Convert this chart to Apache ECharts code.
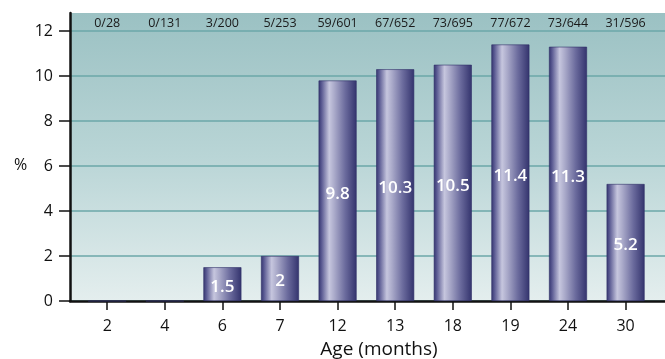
<!DOCTYPE html>
<html>
<head>
<meta charset="utf-8">
<script src="https://cdn.jsdelivr.net/npm/echarts@6/dist/echarts.min.js"></script>
<style>
  html, body { margin: 0; padding: 0; background: #ffffff; }
  #chart { width: 665px; height: 359px; }
</style>
</head>
<body>
<div id="chart"></div>
<script>
// Age groups (months) along the x axis
const ages = ['2', '4', '6', '7', '12', '13', '18', '19', '24', '30'];
// Percentage positive per age group
const percents = [0, 0, 1.5, 2, 9.8, 10.3, 10.5, 11.4, 11.3, 5.2];
// Positive / tested counts shown along the top
const counts = ['0/28', '0/131', '3/200', '5/253', '59/601', '67/652', '73/695', '77/672', '73/644', '31/596'];
// Y axis tick values
const yTicks = [0, 2, 4, 6, 8, 10, 12];

const FONT = '"Open Sans", "DejaVu Sans", sans-serif';
const Y_MAX = 12.8;

const chart = echarts.init(document.getElementById('chart'), null, { renderer: 'canvas' });

const barGradient = new echarts.graphic.LinearGradient(0, 0, 1, 0, [
  { offset: 0.0, color: '#34346f' },
  { offset: 0.08, color: '#5a5a92' },
  { offset: 0.28, color: '#c6c6de' },
  { offset: 0.42, color: '#a9a9c9' },
  { offset: 0.7, color: '#6b6b9d' },
  { offset: 1.0, color: '#33336d' }
]);

const bgGradient = new echarts.graphic.LinearGradient(0, 0, 0, 1, [
  { offset: 0, color: '#9bc1c3' },
  { offset: 0.5, color: '#b9d5d6' },
  { offset: 1, color: '#e4eeee' }
]);

chart.setOption({
  animation: false,
  grid: [
    // frame: background, gridlines, y axis
    { left: 70, right: 0, top: 13, bottom: 58, show: true, backgroundColor: bgGradient, borderWidth: 0 },
    // bars
    { left: 78.4, right: 10.6, top: 13, bottom: 58 }
  ],
  xAxis: [
    {
      gridIndex: 0, type: 'value', min: 0, max: 1,
      axisLine: { show: true, onZero: false, lineStyle: { color: '#111', width: 2.5 } },
      axisTick: { show: false }, axisLabel: { show: false }, splitLine: { show: false }
    },
    {
      gridIndex: 1, type: 'category', data: ages, position: 'bottom',
      axisLine: { show: false },
      axisTick: { show: true, alignWithLabel: true, length: 9, lineStyle: { color: '#111', width: 1.5 } },
      axisLabel: { color: '#111', fontFamily: FONT, fontSize: 16, margin: 17 }
    },
    {
      gridIndex: 1, type: 'category', data: counts, position: 'top',
      axisLine: { show: false }, axisTick: { show: false },
      axisLabel: { inside: true, color: '#1a1a1a', fontFamily: FONT, fontSize: 12.5, margin: 4 }
    }
  ],
  yAxis: [
    {
      gridIndex: 0, type: 'value', min: 0, max: Y_MAX,
      axisLine: { show: true, lineStyle: { color: '#111', width: 2.5 } },
      axisTick: { show: true, length: 11, customValues: yTicks, lineStyle: { color: '#111', width: 1.5 } },
      axisLabel: { customValues: yTicks, color: '#111', fontFamily: FONT, fontSize: 16, margin: 17 },
      splitLine: { show: true, lineStyle: { color: '#6ba7a9', width: 1.5 } }
    },
    {
      gridIndex: 1, type: 'value', min: 0, max: Y_MAX, show: false,
      splitLine: { show: false }
    }
  ],
  series: [
    {
      type: 'bar',
      xAxisIndex: 1, yAxisIndex: 1,
      data: percents,
      barWidth: 38,
      itemStyle: { color: barGradient, borderColor: '#2f2f66', borderWidth: 0.6 },
      label: {
        show: true,
        position: 'inside',
        offset: [0, 3],
        color: '#ffffff',
        fontFamily: FONT,
        fontSize: 17,
        fontWeight: 600,
        formatter: p => (p.value > 0 ? String(p.value) : '')
      }
    }
  ],
  graphic: [
    { type: 'text', left: 14, top: 157, style: { text: '%', font: '16px ' + FONT, fill: '#111' } },
    {
      type: 'text', x: 379, y: 350,
      style: { text: 'Age (months)', font: '19px ' + FONT, fill: '#111', align: 'center', verticalAlign: 'middle' }
    }
  ]
});
</script>
</body>
</html>
